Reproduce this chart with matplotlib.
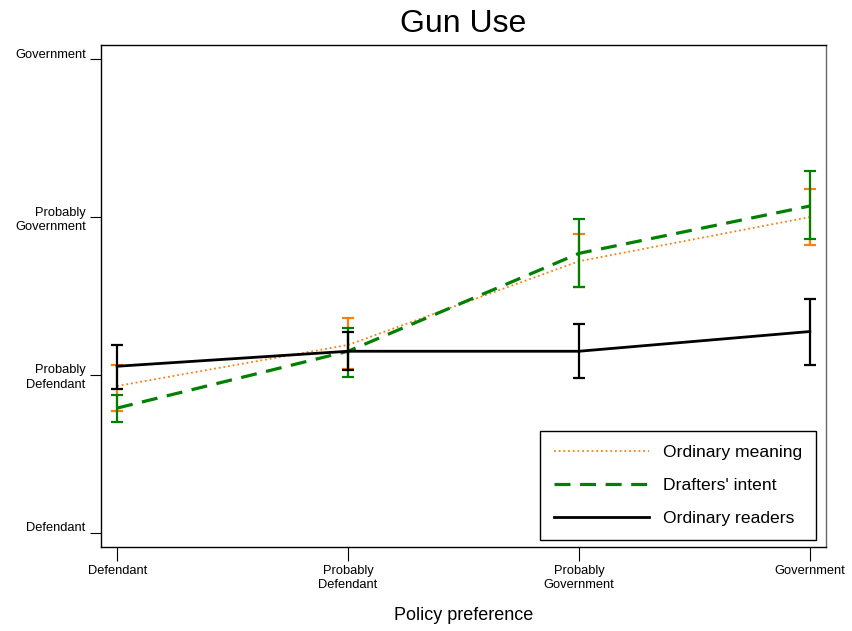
import matplotlib
matplotlib.use('Agg')
import matplotlib.pyplot as plt

plt.rcParams['font.family'] = ['Liberation Sans', 'DejaVu Sans']

x = [1, 2, 3, 4]
levels = ['Defendant', 'Probably\nDefendant', 'Probably\nGovernment', 'Government']

meaning = [1.93, 2.19, 2.72, 3.00]
meaning_lo = [1.77, 2.04, 2.555, 2.82]
meaning_hi = [2.065, 2.36, 2.895, 3.18]

intent = [1.79, 2.15, 2.77, 3.07]
intent_lo = [1.705, 1.99, 2.555, 2.86]
intent_hi = [1.875, 2.295, 2.99, 3.29]

readers = [2.055, 2.15, 2.15, 2.275]
readers_lo = [1.91, 2.03, 1.98, 2.065]
readers_hi = [2.19, 2.27, 2.325, 2.48]

fig = plt.figure(figsize=(8.52, 6.31), dpi=100)
ax = fig.add_axes([0.1185, 0.1331, 0.851, 0.7956])

series = [
    ('Ordinary meaning', meaning, meaning_lo, meaning_hi, '#ff7f0e', (0, (1, 1.6)), 1.3),
    ("Drafters' intent", intent, intent_lo, intent_hi, '#008000', (0, (5, 3)), 2.3),
    ('Ordinary readers', readers, readers_lo, readers_hi, 'black', '-', 2.0),
]
for lab, y, lo, hi, c, ls, lw in series:
    err = [[v - l for v, l in zip(y, lo)], [h - v for v, h in zip(y, hi)]]
    ax.errorbar(x, y, yerr=err, fmt='none', ecolor=c, elinewidth=1.6, capsize=4, capthick=1.6)
    ax.plot(x, y, color=c, linestyle=ls, linewidth=lw, label=lab)

ax.set_xlim(0.93, 4.07)
ax.set_ylim(0.91, 4.09)
ax.set_xticks(x)
ax.set_xticklabels(levels, fontsize=9.3, linespacing=1.25)
ax.set_yticks(x)
# single-line y labels sit half a line high, as in the original
ylabels = [l if '\n' in l else l + '\n ' for l in levels]
ax.set_yticklabels(ylabels, fontsize=9.3, linespacing=1.25, ha='right')
ax.tick_params(axis='x', length=10, width=0.8, pad=3)
ax.tick_params(axis='y', length=8, width=0.8, pad=3)
for s in ax.spines.values():
    s.set_linewidth(1.0)
ax.spines['right'].set_color('#666666')

ax.set_title('Gun Use', fontsize=23, pad=9)
ax.set_xlabel('Policy preference', fontsize=13, labelpad=11)

leg = ax.legend(loc='lower right', bbox_to_anchor=(0.986, 0.014), fontsize=12.6,
                handlelength=5.4, handletextpad=0.8, labelspacing=1.0,
                fancybox=False, edgecolor='black', framealpha=1, borderpad=0.8,
                borderaxespad=0)
leg.get_frame().set_linewidth(1.0)

fig.savefig('out.png', dpi=100)
